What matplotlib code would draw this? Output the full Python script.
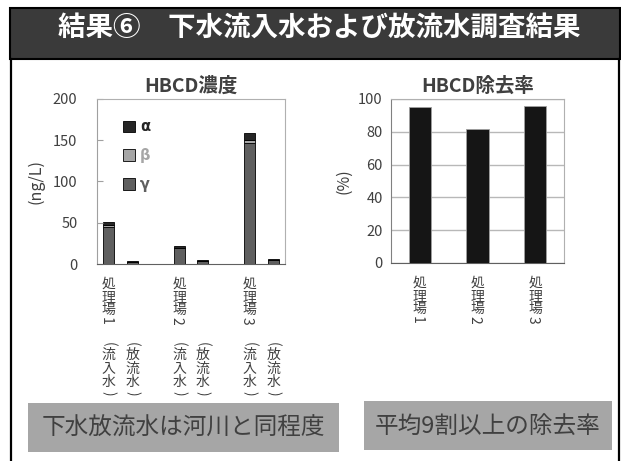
import numpy as np
import matplotlib.pyplot as plt
from matplotlib.patches import Rectangle
from matplotlib.lines import Line2D

plt.rcParams['font.family'] = ['Noto Sans CJK JP', 'DejaVu Sans']

# HBCD concentration (ng/L), stacked gamma / beta / alpha
plants = ["処理場1", "処理場2", "処理場3"]
sample_types = ["(流入水)", "(放流水)"]
conc_pos = [0, 1, 3, 4, 6, 7]
gamma = [45, 2, 19, 3.5, 147, 4.5]
beta = [2, 0.3, 1, 0.3, 3, 0.5]
alpha = [4, 0.8, 2, 1, 9, 1.5]

# removal rate (%)
removal = [95, 82, 95.5]

W, H = 621, 461
fig = plt.figure(figsize=(W / 100, H / 100), dpi=100)


def fx(x):
    return x / W


def fy(y):
    return 1 - y / H


# frame and header band
fig.add_artist(Rectangle((fx(10), fy(59)), fx(610), 51 / H, transform=fig.transFigure,
                         facecolor="#3a3a3a", edgecolor="black", lw=1.5))
fig.add_artist(Line2D([fx(11), fx(11)], [fy(59), 0], transform=fig.transFigure, color="black", lw=1.6))
fig.add_artist(Line2D([fx(619), fx(619)], [fy(59), 0], transform=fig.transFigure, color="black", lw=1.6))
fig.text(fx(319), fy(28), "結果⑥　下水流入水および放流水調査結果", color="white",
         fontsize=19.8, fontweight="bold", ha="center", va="center")

gray_text = "#404040"


def vlabel(ax, x, text, start, size=10):
    # vertical Japanese text, digits and brackets turned sideways
    y = start
    for ch in text:
        dx = 0
        if ch in "0123456789":
            rot, h, dx = -90, 0.65 * size, -2
        elif ch in "()":
            rot, h = -90, 0.7 * size
        else:
            rot, h = 0, 0.95 * size
        ax.annotate(ch, xy=(x, 0), xycoords=("data", "axes fraction"),
                    xytext=(dx, -y - h / 2), textcoords="offset points",
                    ha="center", va="center", rotation=rot, fontsize=size,
                    color=gray_text, annotation_clip=False)
        y += h


# ---- left chart: concentration
ax1 = fig.add_axes([fx(97), fy(264), 188 / W, 165 / H])
c_g, c_b, c_a = "#5f5f5f", "#a6a6a6", "#262626"
bw = 0.45
ax1.bar(conc_pos, gamma, bw, color=c_g, edgecolor="black", lw=0.6, label="γ")
ax1.bar(conc_pos, beta, bw, bottom=gamma, color=c_b, edgecolor="black", lw=0.6, label="β")
ax1.bar(conc_pos, alpha, bw, bottom=np.add(gamma, beta), color=c_a, edgecolor="black", lw=0.6, label="α")
ax1.set_xlim(-0.5, 7.5)
ax1.set_ylim(0, 200)
ax1.set_yticks([0, 50, 100, 150, 200])
ax1.set_xticks([])
ax1.tick_params(axis="y", direction="in", length=4, color="#a0a0a0", labelsize=10.5,
                labelcolor=gray_text, pad=14)
ax1.set_title("HBCD濃度", fontsize=14, fontweight="bold", color=gray_text, pad=5)
ax1.set_ylabel("(ng/L)", fontsize=11.5, color=gray_text, labelpad=6)
for s in ["top", "right"]:
    ax1.spines[s].set_color("#b0b0b0")
ax1.spines["left"].set_color("#a0a0a0")
ax1.spines["bottom"].set_color("#606060")
h, l = ax1.get_legend_handles_labels()
leg = ax1.legend(h[::-1], l[::-1], loc="upper left", bbox_to_anchor=(0.1, 0.92),
                 frameon=False, handlelength=0.85, handleheight=0.85, handletextpad=0.3,
                 labelspacing=0.95, borderpad=0,
                 prop={"family": "DejaVu Sans", "weight": "bold", "size": 10.5},
                 labelcolor=[c_a, c_b, c_g])
for i, p in enumerate(plants):
    vlabel(ax1, conc_pos[2 * i], p, 9.5)
    vlabel(ax1, conc_pos[2 * i], sample_types[0], 54)
    vlabel(ax1, conc_pos[2 * i + 1], sample_types[1], 54)

# ---- right chart: removal rate
ax2 = fig.add_axes([fx(391), fy(263), 173 / W, 164 / H])
xr = np.arange(len(plants))
ax2.bar(xr, removal, 0.39, color="#151515", edgecolor="#a0a0a0", lw=0.6, zorder=3)
ax2.set_xlim(-0.5, 2.5)
ax2.set_ylim(0, 100)
ax2.set_yticks(np.arange(0, 101, 20))
ax2.set_xticks([])
ax2.grid(axis="y", color="#b8b8b8", lw=1, zorder=0)
ax2.tick_params(axis="y", length=0, labelsize=10.5, labelcolor=gray_text, pad=6)
ax2.set_title("HBCD除去率", fontsize=14, fontweight="bold", color=gray_text, pad=5)
ax2.set_ylabel("(%)", fontsize=11.5, color=gray_text, labelpad=4)
for s in ["top", "right"]:
    ax2.spines[s].set_color("#b0b0b0")
ax2.spines["left"].set_color("#808080")
ax2.spines["bottom"].set_color("#606060")
for i, p in enumerate(plants):
    vlabel(ax2, xr[i], p, 9.5)

# ---- bottom notes
fig.add_artist(Rectangle((fx(28), fy(452)), 311 / W, 49 / H, transform=fig.transFigure,
                         facecolor="#a6a6a6", edgecolor="none"))
fig.text(fx(183), fy(428), "下水放流水は河川と同程度", fontsize=17, color=gray_text,
         ha="center", va="center")
fig.add_artist(Rectangle((fx(364), fy(450)), 248 / W, 49 / H, transform=fig.transFigure,
                         facecolor="#a6a6a6", edgecolor="none"))
fig.text(fx(488), fy(426), "平均9割以上の除去率", fontsize=17, color=gray_text,
         ha="center", va="center")

fig.savefig("out.png", dpi=100)
